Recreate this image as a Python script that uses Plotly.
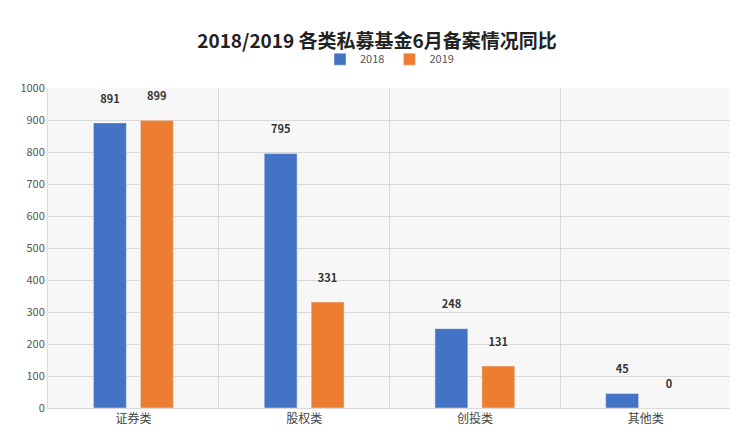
import plotly.graph_objects as go

categories = ["证券类", "股权类", "创投类", "其他类"]
v2018 = [891, 795, 248, 45]
v2019 = [899, 331, 131, 0]

font = "Noto Sans CJK SC"
fig = go.Figure()
for name, vals, col in [("2018", v2018, "#4472C4"), ("2019", v2019, "#ED7D31")]:
    fig.add_bar(name=name, x=categories, y=vals, marker_color=col,
                text=[f"{v}<br> " for v in vals], textposition="outside",
                textfont=dict(size=11, color="#333", family=font, weight="bold"), cliponaxis=False)

fig.update_layout(
    width=738, height=442,
    margin=dict(l=36, r=15, t=80, b=42),
    paper_bgcolor="white", plot_bgcolor="#f7f7f7",
    font=dict(family=font, size=11, color="#555"),
    title=dict(text="<b>2018/2019 各类私募基金6月备案情况同比</b>", x=0.5, xanchor="center",
               y=0.925, yanchor="middle", font=dict(size=19, color="#222")),
    legend=dict(orientation="h", x=0.5, xanchor="center", y=1.09, yanchor="middle",
                font=dict(size=11, color="#555"), itemwidth=30),
    bargap=0.45, bargroupgap=0.3,
    xaxis=dict(tickson="boundaries", showgrid=True, gridcolor="#d9d9d9", ticks="",
               showline=True, linecolor="#d9d9d9", tickfont=dict(size=12, color="#444")),
    yaxis=dict(range=[0, 1000], dtick=100, gridcolor="#d9d9d9", zeroline=False,
               showline=True, linecolor="#d9d9d9", tickfont=dict(size=11, color="#555")),
)
fig.write_html("out.html")
